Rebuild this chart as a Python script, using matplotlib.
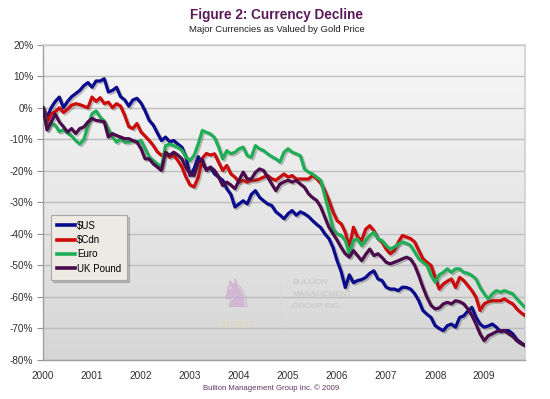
import numpy as np
import matplotlib
matplotlib.use("Agg")
import matplotlib.pyplot as plt
import matplotlib.patheffects as pe
from matplotlib.colors import LinearSegmentedColormap

plt.rcParams['font.family'] = ['Liberation Sans', 'DejaVu Sans']

title = "Figure 2: Currency Decline"
subtitle = "Major Currencies as Valued by Gold Price"
footer = "Bullion Management Group Inc. \u00a9 2009"
years = [2000, 2001, 2002, 2003, 2004, 2005, 2006, 2007, 2008, 2009]
y_ticks = [20, 10, 0, -10, -20, -30, -40, -50, -60, -70, -80]

# Monthly values (%), Jan 2000 .. Nov 2009
usd = [0, -3, 0, 2, 3.4, 0, 2, 3.5, 4.5, 5.5, 7, 8, 6.5, 8.5, 8.5, 9.2, 5, 5.5, 6.5, 3.5,
       2.5, 0.5, 2.5, 3, 1.5, -1, -4, -5.5, -8, -10.4, -9.3, -10.8, -10.4, -11.5, -12.5, -15.7, -21.5, -19.3, -15.5, -17.8,
       -19.5, -19, -21, -22, -23, -25.7, -27.5, -31.5, -30.5, -29.5, -30.5, -27.5, -26.3, -28.4, -29.5, -30.5, -31, -33, -34, -35.2,
       -33.6, -32.6, -34.1, -33, -33.6, -34.5, -35.8, -37, -38, -40, -41.5, -44.3, -48.5, -52, -57, -53, -55.5, -54.8, -54.5, -53.8,
       -52.5, -51.7, -54.3, -54.8, -56.9, -57.5, -57.5, -58, -56.9, -57, -57.5, -59, -61.2, -64.3, -65.5, -66.5, -69.1, -70, -70.7, -69.1,
       -68.6, -69.6, -66.5, -66, -64.5, -63.3, -66.5, -68.6, -69.6, -69.2, -68.6, -69.6, -71, -70.7, -70.7, -71.7, -73.5, -74.5, -75.4]
cad = [0, -4.5, -2, -1.2, 0, -1.5, -0.5, 0.8, 1.3, 1, 0.5, 0, 3.4, 2, 3.2, 1.3, 1.8, 0, 1.3, 0.5,
       -2.4, -6, -6.6, -5, -7.7, -9, -10.4, -12, -14, -15.1, -14.6, -15.7, -15.1, -16.7, -18.8, -22, -24.5, -25.1, -22.1, -16,
       -14.5, -15, -14.6, -17.3, -19.9, -18.3, -21, -22, -23.6, -23, -23.6, -23, -23, -22.6, -22, -21.5, -22.5, -23, -22, -21,
       -22, -21.5, -22.6, -22.6, -22.6, -22.6, -21.5, -22.5, -24, -26.3, -29.4, -33, -35.8, -36.8, -39.5, -44.3, -37.9, -41, -42.1, -38.5,
       -37.4, -39, -41.5, -42.6, -44.8, -46.3, -45.3, -42.6, -40.5, -41, -41.5, -42.6, -45.3, -47.9, -49, -50, -53.8, -57.5, -55.9, -55,
       -54.3, -57, -53.8, -54.8, -56.4, -58, -60.1, -64.3, -62.2, -61.5, -61.2, -61.2, -61.2, -60.6, -61.5, -62.2, -63.8, -65, -65.9]
eur = [0, -7, -5, -5.5, -7.6, -7, -8, -8.9, -10.4, -11.5, -10, -5.8, -1.9, -1, -3, -4.2, -6.8, -9.3, -10.9, -9.9,
       -10.9, -10.9, -10.4, -10.9, -10.4, -13, -15.6, -16.7, -17.8, -18.8, -12, -11.5, -12, -12.5, -13.5, -15.7, -16.7, -15.1, -11.5, -7.2,
       -7.8, -8.3, -9.5, -12.5, -16.2, -13.6, -14.6, -14.1, -13, -12.5, -15.2, -15.7, -12, -13, -13.6, -14.6, -15.5, -16.2, -17.2, -14.1,
       -13, -14.1, -14.6, -15.2, -19.4, -20.4, -21, -22, -23, -28, -33, -38.4, -40, -40.5, -42.1, -46.3, -42.1, -41.6, -43.7, -42.1,
       -40.5, -39.5, -41.6, -42.1, -43.7, -44.8, -44.2, -43.2, -42.6, -43, -43.7, -45.8, -47.9, -49, -50, -53.2, -55.3, -53, -52.2, -51.1,
       -52.2, -51.1, -51.1, -52.2, -52.5, -53.2, -54.3, -57, -59, -60.6, -59, -58, -58.5, -58, -58.5, -59, -60.6, -62, -63.3]
gbp = [0, -7, -4.5, -2, -4.5, -6, -7.7, -6.6, -8.2, -6.6, -6.1, -4.5, -3.4, -4, -4.2, -4.5, -9.3, -8.2, -8.8, -9.3,
       -9.8, -9.8, -10.4, -10.9, -13, -16.2, -16.2, -17.8, -18.8, -19.9, -14.1, -15.1, -14.1, -15, -16.2, -19, -21, -21.5, -17.2, -16.5,
       -19.9, -18.8, -19.9, -22, -24.7, -23.6, -24.5, -25.7, -23, -20.4, -22.6, -22.6, -20.5, -19.4, -19.9, -22, -24.2, -26.3, -24.2, -23.5,
       -23, -23.6, -23, -24.2, -25.2, -27.3, -28.5, -29.4, -31.5, -34.7, -37.9, -40, -42, -44.3, -46.3, -47.4, -45.3, -46.9, -48.5, -46.5,
       -44.8, -46.9, -46.3, -47.5, -49, -49.5, -49, -48.5, -47.9, -47.4, -48, -50, -53.2, -56.9, -60.1, -62.7, -63.8, -63.5, -62.2, -61.7,
       -62.2, -61.2, -61.5, -62.2, -63.8, -65.9, -68.6, -71.7, -73.9, -72.3, -71.7, -71, -70.7, -70.7, -71.7, -72.5, -73.9, -74.8, -75.4]

labels = ["$US", "$Cdn", "Euro", "UK Pound"]
series = [usd, cad, eur, gbp]
colors = ["#0a0a8c", "#cc0a0a", "#1fae55", "#4a0b4a"]

fig = plt.figure(figsize=(5.5, 3.99), dpi=100)
fig.patch.set_facecolor("white")
ax = fig.add_axes([43 / 550, 1 - 360 / 399, (525 - 43) / 550, (360 - 44.7) / 399])

# gradient plot background
grad = np.linspace(0, 1, 256).reshape(-1, 1)
cmap = LinearSegmentedColormap.from_list("bg", ["#f8f8f8", "#d6d6d6"])
ax.imshow(grad, extent=[0, 1, 0, 1], transform=ax.transAxes, aspect="auto",
          cmap=cmap, zorder=0, interpolation="bicubic")

n = len(usd)
x = 2000 + np.arange(n) / 12.0
for s, lab, c in zip(series, labels, colors):
    ax.plot(x, s, color=c, lw=2.3, label=lab, zorder=3, solid_joinstyle="round",
            path_effects=[pe.SimpleLineShadow(offset=(1.2, -1.2), alpha=0.3, shadow_color="#404040"), pe.Normal()])

ax.set_xlim(2000, 2000 + (n - 1) / 12.0)
ax.set_ylim(-80, 20)
ax.set_yticks(y_ticks)
ax.set_yticklabels([f"{v}%" for v in y_ticks])
ax.set_xticks(years)
ax.set_xticklabels([str(y) for y in years])
ax.tick_params(axis="y", length=4, width=0.8, color="#909090", labelsize=7.2, labelcolor="#303030", pad=3)
ax.tick_params(axis="x", length=0, labelsize=7.2, labelcolor="#303030", pad=8)
ax.grid(axis="y", color="#bdbdbd", lw=1.0, zorder=1)
ax.set_axisbelow(True)
for side in ["top", "right"]:
    ax.spines[side].set_color("#cfcfcf")
    ax.spines[side].set_linewidth(1.2)
for side in ["left", "bottom"]:
    ax.spines[side].set_color("#a0a0a0")
    ax.spines[side].set_linewidth(1.0)

leg = ax.legend(loc="lower left", bbox_to_anchor=(0.016, 0.255), fontsize=7, frameon=True,
                fancybox=False, shadow={"ox": 1.5, "oy": -1.5, "alpha": 0.25},
                facecolor="#eceae2", edgecolor="#a8a8a8",
                handlelength=1.9, handletextpad=0.2, labelspacing=0.45, borderpad=0.6,
                borderaxespad=0)
leg.get_frame().set_linewidth(0.8)
for h in leg.get_lines():
    h.set_linewidth(2.6)
    h.set_path_effects([])

# watermark
fig.text(236 / 550, 1 - 296 / 399, "\u265e", family="DejaVu Sans", fontsize=28,
         color="#cdaed0", ha="center", va="center", alpha=0.8, zorder=2)
fig.text(237 / 550, 1 - 326 / 399, "B M G", fontsize=8, family="Liberation Serif",
         color="#e2d2b0", ha="center", va="center", zorder=2)
fig.add_artist(plt.Line2D([281 / 550, 281 / 550], [1 - 283 / 399, 1 - 330 / 399],
                          color="#d8d8d8", lw=0.8, zorder=2))
for i, t in enumerate(["BULLION", "MANAGEMENT", "GROUP INC."]):
    fig.text(292 / 550, 1 - (283 + i * 11.5) / 399, t, fontsize=6, color="#c4c4c4",
             ha="left", va="center", zorder=2)

fig.text(276 / 550, 1 - 15 / 399, title, fontsize=9.8, fontweight="bold",
         color="#5a1a5a", ha="center", va="center")
fig.text(277 / 550, 1 - 29.5 / 399, subtitle, fontsize=6.8, color="#202020",
         ha="center", va="center")
fig.text(271 / 550, 1 - 388 / 399, footer, fontsize=5.6, color="#5e3460",
         ha="center", va="center")

fig.savefig("out.png", dpi=100, facecolor="white")
